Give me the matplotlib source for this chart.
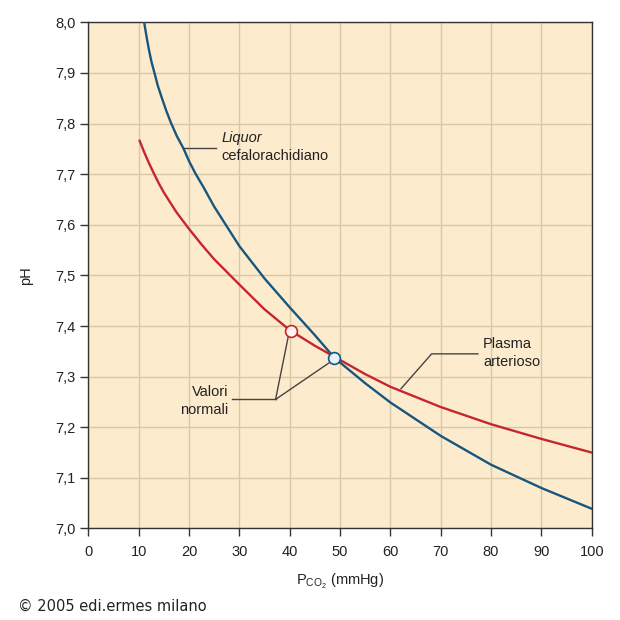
import matplotlib
matplotlib.use("Agg")
import matplotlib.pyplot as plt

plt.rcParams['font.family'] = ['Liberation Sans', 'DejaVu Sans']
plt.rcParams['mathtext.fontset'] = 'custom'
plt.rcParams['mathtext.rm'] = 'Liberation Sans'

# liquor cefalorachidiano (blue)
liquor_pco2 = [11.1, 11.6, 12.1, 12.6, 13.15, 13.8, 14.6, 15.5, 16.4, 17.6, 18.9, 20, 21.3, 22.9, 25, 27.5,
               30, 35, 40, 45, 48.9, 50, 55, 60, 70, 80, 90, 100]
liquor_ph = [8.0, 7.97, 7.943, 7.92, 7.9, 7.875, 7.851, 7.825, 7.802, 7.775, 7.751, 7.726, 7.701, 7.674,
             7.636, 7.597, 7.558, 7.494, 7.437, 7.382, 7.337, 7.328, 7.287, 7.249, 7.183, 7.126, 7.08, 7.039]

# plasma arterioso (red)
plasma_pco2 = [10.2, 11, 12, 13, 14, 15, 17.5, 20, 22.5, 25, 30, 35, 40, 45, 50, 55, 60, 70, 80, 90, 100]
plasma_ph = [7.766, 7.746, 7.723, 7.702, 7.682, 7.664, 7.625, 7.592, 7.561, 7.532, 7.482, 7.433, 7.392,
             7.361, 7.333, 7.305, 7.28, 7.24, 7.206, 7.177, 7.15]

# normal values
normal_plasma = (40.3, 7.39)
normal_liquor = (48.9, 7.337)

xticks = list(range(0, 101, 10))
yticks = [7.0, 7.1, 7.2, 7.3, 7.4, 7.5, 7.6, 7.7, 7.8, 7.9, 8.0]

blue = '#17577e'
red = '#c6262e'
dark = '#333333'

fig = plt.figure(figsize=(6.2, 6.2), dpi=100)
ax = fig.add_axes([0.1424, 0.1476, 0.812, 0.8164])
ax.set_facecolor('#fdebcd')

ax.set_xlim(0, 100)
ax.set_ylim(7.0, 8.0)
ax.set_xticks(xticks)
ax.set_yticks(yticks)
ax.set_yticklabels([f"{v:.1f}".replace('.', ',') for v in yticks])
ax.grid(True, color='#d9c7a5', lw=1)
ax.set_axisbelow(True)
ax.tick_params(direction='out', length=6, width=1, color=dark, labelsize=10.5, labelcolor='#222222')
ax.tick_params(axis='x', pad=6)
ax.tick_params(axis='y', pad=3)
for s in ax.spines.values():
    s.set_color(dark)
    s.set_linewidth(1)

ax.plot(liquor_pco2, liquor_ph, color=blue, lw=1.7, zorder=3, solid_joinstyle='round')
ax.plot(plasma_pco2, plasma_ph, color=red, lw=1.7, zorder=3, solid_joinstyle='round')

ax.plot(*normal_plasma, 'o', ms=8.5, mfc='#fff4ee', mec=red, mew=1.2, zorder=4)
ax.plot(*normal_liquor, 'o', ms=8.5, mfc='#e6f3fa', mec=blue, mew=1.2, zorder=4)

# annotations
ax.plot([18.9, 25.4], [7.751, 7.751], color='#444444', lw=1, zorder=2)
ax.text(26.4, 7.771, 'Liquor', style='italic', fontsize=10.5, va='center', color='#222222')
ax.text(26.4, 7.735, 'cefalorachidiano', fontsize=10.5, va='center', color='#222222')

ax.plot([62.1, 68.2, 77.4], [7.276, 7.345, 7.345], color='#444444', lw=1, zorder=2)
ax.text(78.4, 7.364, 'Plasma', fontsize=10.5, va='center', color='#222222')
ax.text(78.4, 7.329, 'arterioso', fontsize=10.5, va='center', color='#222222')

ax.plot([28.5, 37.2], [7.255, 7.255], color='#444444', lw=1, zorder=2)
ax.plot([37.2, 39.8], [7.255, 7.383], color='#444444', lw=1, zorder=2)
ax.plot([37.2, 47.8], [7.255, 7.327], color='#444444', lw=1, zorder=2)
ax.text(27.8, 7.269, 'Valori', fontsize=10.5, va='center', ha='right', color='#222222')
ax.text(27.8, 7.235, 'normali', fontsize=10.5, va='center', ha='right', color='#222222')

ax.set_ylabel('pH', fontsize=10.5, color='#222222')
ax.yaxis.set_label_coords(-0.11, 0.5)
ax.set_xlabel(r'P$_{\mathrm{CO_2}}$ (mmHg)', fontsize=10.5, color='#222222')
ax.xaxis.set_label_coords(0.5, -0.085)

fig.text(18 / 620, 1 - 606 / 620, '\u00a9 2005 edi.ermes milano', fontsize=10.5,
         family='DejaVu Sans', va='center', color='#222222')

fig.savefig('out.png', dpi=100, facecolor='white')
